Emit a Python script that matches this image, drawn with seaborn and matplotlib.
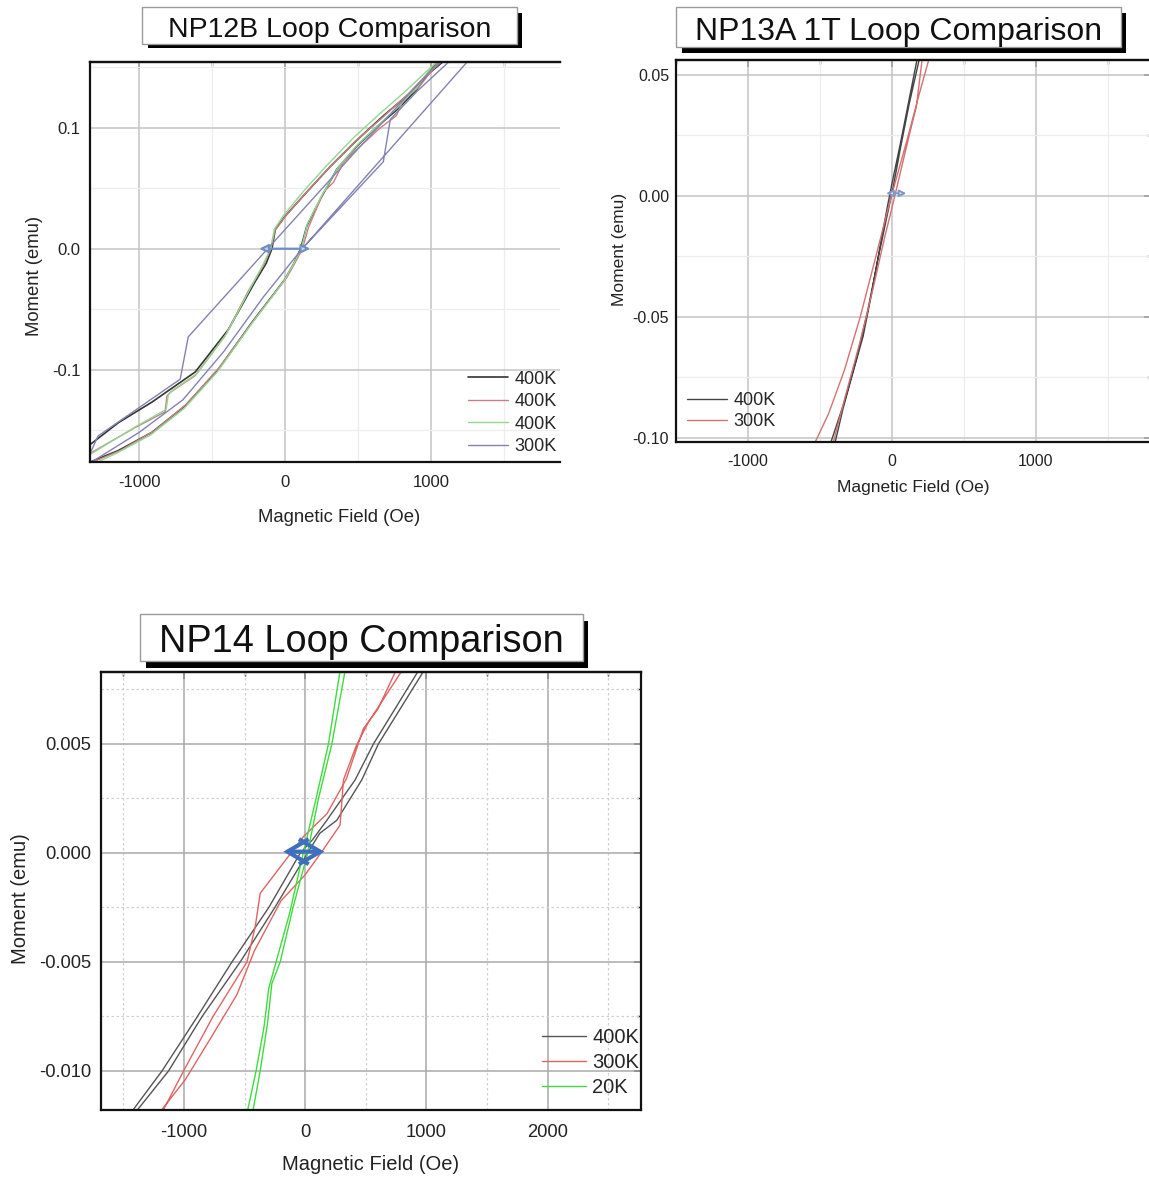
import numpy as np
import pandas as pd
import matplotlib
matplotlib.use("Agg")
import matplotlib.pyplot as plt
import seaborn as sns
from matplotlib.patches import Rectangle
from matplotlib.ticker import MultipleLocator, FormatStrFormatter

# ---------------- data ----------------
# Panel 1: NP12B
np12b_labels = ["400K", "400K", "400K", "300K"]

np12b_black_f = [1082, 993, 856, 672, 491, 308, 148, 0, -68, -91, -130, -205, -390, -616, -913, -1142, -1345,
                 -1345, -1142, -913, -685, -459, -228, 0, 60, 105, 148, 240, 354, 491, 628, 765, 902, 993, 1050]
np12b_black_m = [0.155, 0.146, 0.129, 0.110, 0.090, 0.068, 0.047, 0.027, 0.016, 0.0, -0.012, -0.027, -0.067, -0.102, -0.127, -0.144, -0.163,
                 -0.177, -0.167, -0.152, -0.130, -0.100, -0.061, -0.025, -0.012, 0.0, 0.019, 0.041, 0.066, 0.085, 0.101, 0.115, 0.132, 0.148, 0.155]

np12b_red_f = [1060, 975, 840, 660, 480, 300, 140, -5, -70, -98, -150, -253, -411, -616, -788, -810, -822, -1027, -1345,
               -1345, -1130, -900, -670, -450, -220, 10, 70, 118, 160, 263, 330, 397, 470, 560, 650, 760, 811, 910, 1000, 1070]
np12b_red_m = [0.155, 0.145, 0.128, 0.108, 0.089, 0.067, 0.046, 0.026, 0.015, 0.0, -0.014, -0.035, -0.072, -0.105, -0.119, -0.122, -0.135, -0.148, -0.170,
               -0.178, -0.167, -0.151, -0.128, -0.098, -0.060, -0.024, -0.011, 0.0, 0.018, 0.047, 0.055, 0.071, 0.080, 0.090, 0.100, 0.110, 0.124, 0.133, 0.147, 0.155]

np12b_green_f = [1040, 960, 820, 640, 460, 285, 128, -15, -75, -100, -160, -240, -400, -600, -770, -800, -815, -1020, -1345,
                 -1345, -1150, -920, -690, -465, -235, -5, 55, 110, 150, 245, 360, 495, 635, 770, 905, 1000, 1060]
np12b_green_m = [0.155, 0.146, 0.130, 0.111, 0.091, 0.069, 0.048, 0.027, 0.016, 0.0, -0.015, -0.033, -0.070, -0.103, -0.117, -0.121, -0.133, -0.147, -0.171,
                 -0.180, -0.169, -0.154, -0.132, -0.102, -0.063, -0.026, -0.013, 0.0, 0.020, 0.043, 0.067, 0.086, 0.102, 0.117, 0.134, 0.150, 0.157]

np12b_300_f = [1140, 900, 719, 671, 116, -150, -420, -700, -1000, -1345,
               -1345, -1281, -719, -664, -120, 493, 1000, 1090, 1170, 1270, 116]
np12b_300_m = [0.157, 0.130, 0.107, 0.072, 0.0, -0.040, -0.085, -0.125, -0.152, -0.178,
               -0.172, -0.155, -0.108, -0.073, 0.0, 0.082, 0.148, 0.157, 0.190, 0.158, 0.0]

# Panel 2: NP13A 1T
np13a_labels = ["400K", "300K"]
np13a_black_f = [175, 120, 60, 0, -30, -80, -140, -200, -280, -340, -395,
                 -425, -330, -250, -170, -100, -40, 10, 60, 120, 190]
np13a_black_m = [0.0565, 0.040, 0.022, 0.005, -0.004, -0.020, -0.040, -0.058, -0.075, -0.088, -0.102,
                 -0.102, -0.085, -0.068, -0.048, -0.027, -0.010, 0.004, 0.020, 0.038, 0.0565]
np13a_red_f = [257, 180, 100, 20, -30, -120, -220, -330, -440, -535,
               -408, -320, -220, -130, -50, 0, 60, 120, 170, 210]
np13a_red_m = [0.0565, 0.040, 0.022, 0.005, -0.006, -0.027, -0.050, -0.072, -0.090, -0.102,
               -0.102, -0.082, -0.060, -0.038, -0.017, -0.005, 0.010, 0.025, 0.037, 0.0565]

# Panel 3: NP14
np14_labels = ["400K", "300K", "20K"]
np14_black_f = [950, 563, 412, 179, 60, -40, -300, -604, -900, -1181, -1435,
                -1400, -1127, -850, -536, -250, 20, 120, 261, 467, 604, 995]
np14_black_m = [0.0085, 0.0050, 0.00335, 0.0015, 0.0006, 0.0, -0.0025, -0.0050, -0.0076, -0.0100, -0.0119,
                -0.0119, -0.0100, -0.0075, -0.0050, -0.0025, 0.0, 0.0009, 0.0015, 0.00335, 0.0050, 0.0085]
np14_red_f = [760, 600, 480, 340, 180, 41, -14, -117, -371, -412, -480, -760, -1003, -1180,
              -1200, -989, -780, -563, -420, -200, 0, 130, 288, 316, 420, 522, 815]
np14_red_m = [0.0085, 0.0066, 0.0057, 0.0034, 0.0018, 0.00105, 0.00075, 0.0, -0.00185, -0.00338, -0.0050, -0.0075, -0.0100, -0.0119,
              -0.0119, -0.0104, -0.0085, -0.0065, -0.0045, -0.0022, -0.0010, 0.0, 0.00128, 0.00335, 0.0049, 0.0060, 0.0085]
np14_green_f = [292, 192, 90, -15, -130, -240, -300, -340, -405, -478,
                -433, -371, -310, -275, -206, -100, 20, 110, 220, 334]
np14_green_m = [0.0085, 0.0050, 0.0025, 0.0, -0.0028, -0.0050, -0.0062, -0.0080, -0.0100, -0.0119,
                -0.0119, -0.0100, -0.0078, -0.0060, -0.0050, -0.0025, 0.0, 0.0025, 0.0050, 0.0085]

# coercivity arrows (annotations)
np12b_arrow = (-178, 171, 0.0)
np13a_arrow = (-40, 100, 0.0011)
np14_arrow = (-180, 158, 0.00006)

# ---------------- style ----------------
sns.set_theme(style="white")
plt.rcParams["font.family"] = ["Liberation Sans", "DejaVu Sans"]
plt.rcParams["axes.unicode_minus"] = False

W, H = 1149, 1179
fig = plt.figure(figsize=(W / 100, H / 100), dpi=100)
fig.patch.set_facecolor("white")


def add_px_axes(x0, y0, x1, y1):
    return fig.add_axes([x0 / W, 1 - y1 / H, (x1 - x0) / W, (y1 - y0) / H])


def title_box(text, box, shadow, size, baseline):
    bx0, by0, bx1, by1 = box
    sx0, sy0, sx1, sy1 = shadow
    fig.add_artist(Rectangle((sx0 / W, 1 - sy1 / H), (sx1 - sx0) / W, (sy1 - sy0) / H,
                             transform=fig.transFigure, fc="black", ec="none", zorder=1))
    fig.add_artist(Rectangle((bx0 / W, 1 - by1 / H), (bx1 - bx0) / W, (by1 - by0) / H,
                             transform=fig.transFigure, fc="white", ec="#9a9a9a", lw=1.0, zorder=2))
    fig.text((bx0 + bx1) / 2 / W, 1 - baseline / H, text, ha="center", va="baseline",
             fontsize=size, color="#111111", zorder=3)


def style_axes(ax, xlim, ylim, xmaj, xmin, ymaj, ymin, yfmt, tsize, lsize, xpad, ypad,
               minor_ls="-", minor_col="#ededed", major_col="#c4c4c4", show_right=True):
    ax.set_xlim(xlim)
    ax.set_ylim(ylim)
    ax.xaxis.set_major_locator(MultipleLocator(xmaj))
    ax.xaxis.set_minor_locator(MultipleLocator(xmin))
    ax.yaxis.set_major_locator(MultipleLocator(ymaj))
    ax.yaxis.set_minor_locator(MultipleLocator(ymin))
    ax.yaxis.set_major_formatter(FormatStrFormatter(yfmt))
    ax.xaxis.set_major_formatter(FormatStrFormatter("%d"))
    ax.grid(which="major", color=major_col, lw=1.1)
    ax.grid(which="minor", color=minor_col, lw=0.9, ls=minor_ls)
    ax.set_axisbelow(True)
    ax.tick_params(which="major", direction="out", length=4, width=1.2, labelsize=tsize,
                   colors="#222222")
    ax.tick_params(axis="x", which="major", pad=xpad)
    ax.tick_params(axis="y", which="major", pad=ypad)
    ax.tick_params(which="minor", direction="out", length=2.5, width=1.0)
    for side in ["left", "bottom", "top", "right"]:
        ax.spines[side].set_color("#111111")
        ax.spines[side].set_linewidth(1.6)
    if not show_right:
        ax.spines["right"].set_visible(False)
    sec = ax.secondary_xaxis("top")
    sec.xaxis.set_major_locator(MultipleLocator(xmaj))
    sec.xaxis.set_minor_locator(MultipleLocator(xmin))
    sec.tick_params(which="major", direction="in", length=5, width=1.2, labeltop=False)
    sec.tick_params(which="minor", direction="in", length=3, width=1.0)
    sec.spines["top"].set_linewidth(1.6)
    if show_right:
        sec2 = ax.secondary_yaxis("right")
        sec2.yaxis.set_major_locator(MultipleLocator(ymaj))
        sec2.yaxis.set_minor_locator(MultipleLocator(ymin))
        sec2.tick_params(which="major", direction="in", length=5, width=1.2, labelright=False)
        sec2.tick_params(which="minor", direction="in", length=3, width=1.0)
    ax.set_xlabel("Magnetic Field (Oe)", fontsize=lsize, color="#222222")
    ax.set_ylabel("Moment (emu)", fontsize=lsize, color="#222222")


def draw(ax, f, m, color, label, lw=1.0):
    df = pd.DataFrame({"field": f, "moment": m})
    sns.lineplot(data=df, x="field", y="moment", sort=False, estimator=None,
                 color=color, lw=lw, label=label, ax=ax)


# ---------------- panel 1 ----------------
ax1 = add_px_axes(90, 62, 560, 462)
draw(ax1, np12b_black_f, np12b_black_m, "#333333", np12b_labels[0], lw=1.2)
draw(ax1, np12b_red_f, np12b_red_m, "#c98080", np12b_labels[1])
draw(ax1, np12b_green_f, np12b_green_m, "#92d892", np12b_labels[2])
draw(ax1, np12b_300_f, np12b_300_m, "#8282b3", np12b_labels[3])
style_axes(ax1, (-1336, 1880), (-0.1765, 0.1545), 1000, 500, 0.1, 0.05, "%.1f", 12, 13.3,
           xpad=5, ypad=3, show_right=False)
ax1.annotate("", xy=(np12b_arrow[0], np12b_arrow[2]), xytext=(np12b_arrow[1], np12b_arrow[2]),
             arrowprops=dict(arrowstyle="<|-|>", color="#6d8fc4", lw=1.6,
                             mutation_scale=13, fc="#c9d7ee", shrinkA=0, shrinkB=0))
ax1.xaxis.set_label_coords((339 - 90) / 470, -(509 - 462) / 400)
ax1.yaxis.set_label_coords((43 - 90) / 470, 1 - (276 - 62) / 400)
ax1.legend(loc="lower right", bbox_to_anchor=(557 / W, 1 - 455 / H),
           bbox_transform=fig.transFigure, frameon=False, fontsize=13,
           handlelength=2.2, handletextpad=0.4, labelspacing=0.3,
           borderpad=0, borderaxespad=0)
title_box("NP12B Loop Comparison", (142, 7, 517, 44), (148, 13, 522, 48), 20.5, 37)

# ---------------- panel 2 ----------------
ax2 = add_px_axes(676, 60, 1151, 442)
draw(ax2, np13a_black_f, np13a_black_m, "#444444", np13a_labels[0])
draw(ax2, np13a_red_f, np13a_red_m, "#d27272", np13a_labels[1])
style_axes(ax2, (-1500, 1800), (-0.1017, 0.0562), 1000, 500, 0.05, 0.025, "%.2f", 11.5, 12.5,
           xpad=5, ypad=1)
ax2.annotate("", xy=(np13a_arrow[0], np13a_arrow[2]), xytext=(np13a_arrow[1], np13a_arrow[2]),
             arrowprops=dict(arrowstyle="<|-|>", color="#7b98c8", lw=1.4,
                             mutation_scale=10, fc="#e4ebf6", shrinkA=0, shrinkB=0))
ax2.xaxis.set_label_coords(0.5, -(480 - 442) / 382)
ax2.yaxis.set_label_coords((627 - 676) / 475, 1 - (249 - 60) / 382)
ax2.legend(loc="lower right", bbox_to_anchor=(776 / W, 1 - 430 / H),
           bbox_transform=fig.transFigure, frameon=False, fontsize=13,
           handlelength=2.2, handletextpad=0.4, labelspacing=0.22,
           borderpad=0, borderaxespad=0)
title_box("NP13A 1T Loop Comparison", (676, 7, 1121, 47), (682, 13, 1126, 53), 23, 40)

# ---------------- panel 3 ----------------
ax3 = add_px_axes(101, 672, 641, 1110)
draw(ax3, np14_black_f, np14_black_m, "#555555", np14_labels[0])
draw(ax3, np14_red_f, np14_red_m, "#e06464", np14_labels[1])
draw(ax3, np14_green_f, np14_green_m, "#3edc3e", np14_labels[2])
style_axes(ax3, (-1684, 2770), (-0.01179, 0.0083), 1000, 500, 0.005, 0.0025, "%.3f", 13.2, 14.5,
           xpad=6, ypad=3, minor_ls=(0, (2, 2)), minor_col="#d0d0d0", major_col="#aaaaaa")
ax3.annotate("", xy=(np14_arrow[0], np14_arrow[2]), xytext=(np14_arrow[1], np14_arrow[2]),
             arrowprops=dict(arrowstyle="<->,head_length=0.85,head_width=0.5",
                             color="#3d6fbf", lw=3.0, mutation_scale=18,
                             shrinkA=0, shrinkB=0, joinstyle="miter", capstyle="butt"))
ax3.xaxis.set_label_coords(0.5, -(1155 - 1110) / 438)
ax3.yaxis.set_label_coords((30 - 101) / 540, 1 - (899 - 672) / 438)
ax3.legend(loc="lower right", bbox_to_anchor=(639 / W, 1 - 1097 / H),
           bbox_transform=fig.transFigure, frameon=False, fontsize=14.5,
           handlelength=2.2, handletextpad=0.3, labelspacing=0.3,
           borderpad=0, borderaxespad=0)
title_box("NP14 Loop Comparison", (140, 614, 583, 661), (146, 621, 588, 668), 27.3, 652)

fig.savefig("out.png", dpi=100, facecolor="white")
